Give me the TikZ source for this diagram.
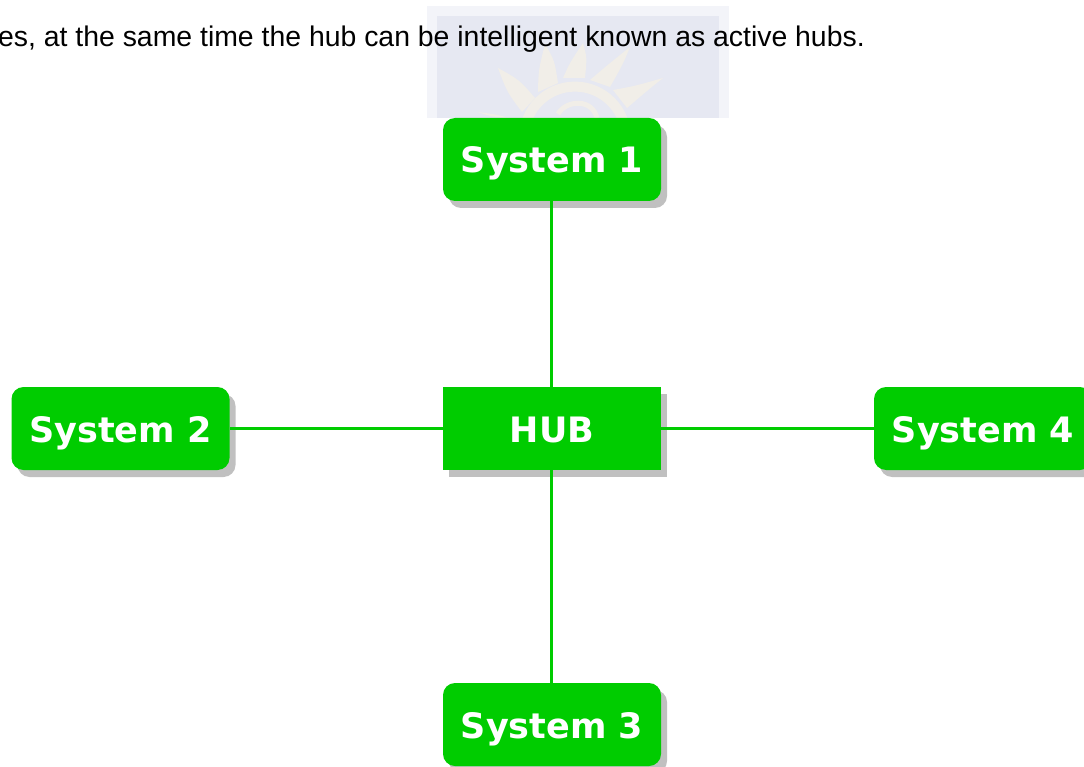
\documentclass[tikz,border=0pt]{standalone}
\usepackage{fontspec}
\setmainfont{Liberation Sans}
\newfontfamily\boxfont{DejaVu Sans}
\usetikzlibrary{shadows}
\pgfdeclarelayer{background}
\pgfsetlayers{background,main}
\definecolor{hubgreen}{HTML}{00CC00}
\definecolor{shadowgray}{HTML}{C0C0C0}
\definecolor{markback}{HTML}{E6E8F2}
\definecolor{markedge}{HTML}{F3F4F9}
\definecolor{marksun}{HTML}{F1EEE8}
\begin{document}
\begin{tikzpicture}[
	x=1pt,y=-1pt,
	hubnode/.style={rectangle, fill=hubgreen, text=white, inner sep=0pt, minimum width=218pt, minimum height=83pt,
		text height=27pt, text depth=0pt,
		font=\boxfont\bfseries\fontsize{35}{35}\selectfont,
		drop shadow={shadow xshift=6pt,shadow yshift=-7pt,fill=shadowgray,opacity=1}},
	sysnode/.style={hubnode, rounded corners=12pt},
	link/.style={draw=hubgreen, line width=3pt},
	ray/.style={fill=marksun, draw=none},
	]
	\clip (0,0) rectangle (1084,767);
	\useasboundingbox (0,0) rectangle (1084,767);

	\begin{pgfonlayer}{background}
	%Watermark
	\fill[markedge] (427,6) rectangle (729,118);
	\fill[markback] (437,16) rectangle (719,118);
	\begin{scope}
		\clip (437,16) rectangle (719,118);
		\foreach \tipx/\tipy/\ax/\ay/\bx/\by in {
			498/68/535/98/522/112,
			545/44/558/83/538/92,
			583/43/585/78/563/78,
			630/47/610/87/590/80,
			663/78/627/108/613/90,
			478/112/523/125/513/118}
		{
			\fill[ray] (\tipx,\tipy) .. controls ({(\tipx+\ax)/2+3},{(\tipy+\ay)/2-3}) .. (\ax,\ay)
				-- (\bx,\by) .. controls ({(\tipx+\bx)/2-3},{(\tipy+\by)/2+2}) .. cycle;
		}
		\draw[marksun, line width=10pt] (575,137.6) circle[radius=51];
		\draw[marksun, line width=5pt] (558,114) .. controls (566,100) and (592,98) .. (597,118);
	\end{scope}
	\end{pgfonlayer}

	%Nodes
	\node[anchor=base east, inner sep=0pt, font=\fontsize{28.4}{28.4}\selectfont] (toptext) at (865,47) {es, at the same time the hub can be intelligent known as active hubs.};
	\node[sysnode] (sys1) at (552,159.5) {System 1};
	\node[sysnode] (sys2) at (120.5,428.5) {System 2};
	\node[hubnode] (hub)  at (552,428.5) {HUB};
	\node[sysnode] (sys3) at (552,724.5) {System 3};
	\node[sysnode] (sys4) at (983,428.5) {System 4};

	%Lines
	\draw[link] ([xshift=-.5pt]hub.north) -- ([xshift=-.5pt]sys1.south);
	\draw[link] (hub) -- (sys2);
	\draw[link] ([xshift=-.5pt]hub.south) -- ([xshift=-.5pt]sys3.north);
	\draw[link] (hub) -- (sys4);
\end{tikzpicture}
\end{document}
